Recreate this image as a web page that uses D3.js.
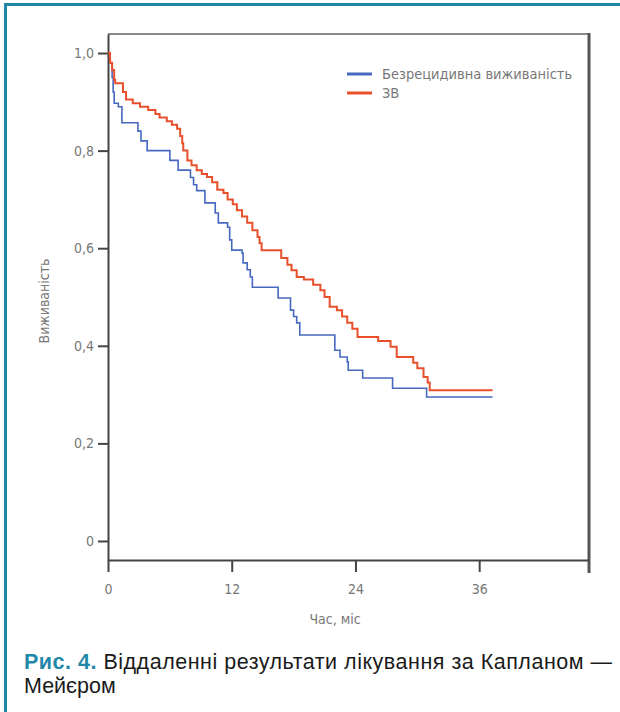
<!DOCTYPE html>
<html>
<head>
<meta charset="utf-8">
<script src="https://cdn.jsdelivr.net/npm/d3@7"></script>
<style>
  body { margin: 0; background: #fff; }
  .tick text { font-family: "Liberation Sans Narrow", "DejaVu Sans Condensed", sans-serif; fill: #777; }
  .label { font-family: "Liberation Sans Narrow", "DejaVu Sans Condensed", sans-serif; fill: #777; }
  .caption { font-family: "Liberation Sans", Arial, sans-serif; font-size: 21.5px; fill: #1a1a1a; }
</style>
</head>
<body>
<div id="kmPlot"></div>
<script>

// Kaplan-Meier curves, values (months, survival)
var seriesNames = ["Безрецидивна виживаність", "ЗВ"];
var seriesColors = ["#4668be", "#e8502c"];

var rfsTimes = [0, 0.2, 0.4, 0.5, 0.6, 1.0, 1.35, 2.9, 3.2, 3.8, 6.0, 6.8, 8.0, 8.3, 8.6, 9.4, 10.4, 10.7, 11.6, 11.8, 12.0,
  13.0, 13.1, 13.5, 13.8, 14.0, 16.5, 17.7, 18.0, 18.3, 18.6, 22.0, 22.5, 23.2, 23.3, 24.7, 27.6, 30.9, 37.3];
var rfsSurv = [1.0, 0.98, 0.95, 0.92, 0.897, 0.89, 0.857, 0.84, 0.82, 0.80, 0.78, 0.76, 0.745, 0.73, 0.718, 0.693, 0.672, 0.652, 0.643, 0.617, 0.596,
  0.59, 0.57, 0.556, 0.541, 0.52, 0.498, 0.473, 0.46, 0.447, 0.422, 0.391, 0.377, 0.367, 0.35, 0.334, 0.313, 0.295, 0.295];

var osTimes = [0, 0.2, 0.4, 0.6, 0.7, 1.45, 1.75, 2.4, 3.1, 3.9, 4.6, 5.0, 5.7, 6.2, 6.7, 7.0, 7.2, 7.3, 7.7, 8.1, 8.6, 9.1, 9.6,
  10.1, 10.6, 11.2, 11.6, 12.1, 12.5, 13.0, 13.5, 14.0, 14.5, 14.7, 14.9, 16.8, 17.4, 17.8, 18.3, 19.0, 19.9, 20.6, 21.0, 21.5,
  22.2, 22.7, 23.2, 23.7, 24.2, 26.2, 27.4, 28.0, 29.6, 30.0, 30.6, 31.0, 31.2, 37.3];
var osSurv = [1.0, 0.98, 0.965, 0.945, 0.938, 0.92, 0.905, 0.897, 0.89, 0.883, 0.875, 0.868, 0.86, 0.853, 0.845, 0.83, 0.815, 0.80, 0.78, 0.77, 0.76, 0.752, 0.746,
  0.735, 0.72, 0.713, 0.70, 0.69, 0.678, 0.665, 0.652, 0.637, 0.623, 0.61, 0.596, 0.58, 0.566, 0.555, 0.541, 0.536, 0.525, 0.514, 0.50, 0.48,
  0.473, 0.46, 0.447, 0.435, 0.418, 0.41, 0.398, 0.377, 0.365, 0.354, 0.336, 0.325, 0.309, 0.309];

var xTicks = [0, 12, 24, 36];
var yTicks = [0, 0.2, 0.4, 0.6, 0.8, 1.0];
var yTickLabels = ["0", "0,2", "0,4", "0,6", "0,8", "1,0"];

var margin = {top: 34, right: 31, bottom: 152, left: 108},
    width = 620 - margin.left - margin.right,
    height = 712 - margin.top - margin.bottom;

var root = d3.select("#kmPlot")
  .append("svg")
    .attr("width", 620)
    .attr("height", 712);

// outer teal frame
root.append("line")
    .attr("x1", 5.5).attr("x2", 5.5).attr("y1", 3).attr("y2", 712)
    .style("stroke", "#1f87a8").style("stroke-width", 3);
root.append("line")
    .attr("x1", 4).attr("x2", 620).attr("y1", 4.5).attr("y2", 4.5)
    .style("stroke", "#1f87a8").style("stroke-width", 3);

var svg = root.append("g")
    .attr("transform", "translate(" + margin.left + "," + margin.top + ")");

var x = d3.scaleLinear()
    .domain([0, 46.65])
    .range([0, width]);

var y = d3.scaleLinear()
    .domain([-0.039, 1.039])
    .range([height, 0]);

// top and right frame
svg.append("line")
    .attr("x1", 0).attr("x2", width).attr("y1", 0).attr("y2", 0)
    .style("stroke", "#888").style("stroke-width", 2);
svg.append("line")
    .attr("x1", width).attr("x2", width).attr("y1", -1).attr("y2", height + 13)
    .style("stroke", "#555").style("stroke-width", 3);

var xAxis = svg.append("g")
    .attr("transform", "translate(0," + height + ")")
    .call(d3.axisBottom(x).tickValues(xTicks).tickSize(12).tickSizeOuter(0).tickPadding(12));

var yAxis = svg.append("g")
    .call(d3.axisLeft(y).tickValues(yTicks).tickSize(10).tickSizeOuter(0).tickPadding(4)
      .tickFormat(function(d, i) { return yTickLabels[i]; }));

[xAxis, yAxis].forEach(function(a) {
  a.select(".domain").style("stroke", "#444").style("stroke-width", 2);
  a.selectAll(".tick line").style("stroke", "#444").style("stroke-width", 2);
  a.selectAll(".tick text").style("font-size", "14px");
});

var line = d3.line()
    .curve(d3.curveStepAfter)
    .x(function(d) { return x(d[0]); })
    .y(function(d) { return y(d[1]); });

var rfs = rfsTimes.map(function(t, i) { return [t, rfsSurv[i]]; });
var os = osTimes.map(function(t, i) { return [t, osSurv[i]]; });

svg.append("path")
    .datum(rfs)
    .attr("d", line)
    .style("fill", "none")
    .style("stroke", seriesColors[0])
    .style("stroke-width", 1.6);

svg.append("path")
    .datum(os)
    .attr("d", line)
    .style("fill", "none")
    .style("stroke", seriesColors[1])
    .style("stroke-width", 2);

// legend
var legend = svg.append("g")
    .attr("transform", "translate(239,40)");

seriesNames.forEach(function(name, i) {
  legend.append("line")
      .attr("x1", 0).attr("x2", 25)
      .attr("y1", i * 19).attr("y2", i * 19)
      .style("stroke", seriesColors[i])
      .style("stroke-width", 3);
  legend.append("text")
      .text(name)
      .classed("label", true)
      .attr("x", 35)
      .attr("y", i * 19 + 5)
      .style("font-size", "14.5px");
});

// axis titles
var labels = root.append("g");

labels.append("text")
    .text("Час, міс")
    .classed("label", true)
    .attr("text-anchor", "middle")
    .attr("x", 335)
    .attr("y", 624)
    .style("font-size", "14px");

labels.append("g")
    .attr("transform", "translate(49,301)")
  .append("text")
    .text("Виживаність")
    .classed("label", true)
    .attr("text-anchor", "middle")
    .attr("transform", "rotate(-90)")
    .style("font-size", "14px");

// caption
var cap = root.append("text")
    .classed("caption", true)
    .attr("x", 24)
    .attr("y", 669)
    .attr("textLength", 588)
    .attr("lengthAdjust", "spacing");
cap.append("tspan")
    .text("Рис. 4.")
    .style("font-weight", "bold")
    .style("fill", "#1f87a8");
cap.append("tspan")
    .text(" Віддаленні результати лікування за Капланом —");

root.append("text")
    .classed("caption", true)
    .attr("x", 24)
    .attr("y", 693)
    .text("Мейєром");

</script>
</body>
</html>
